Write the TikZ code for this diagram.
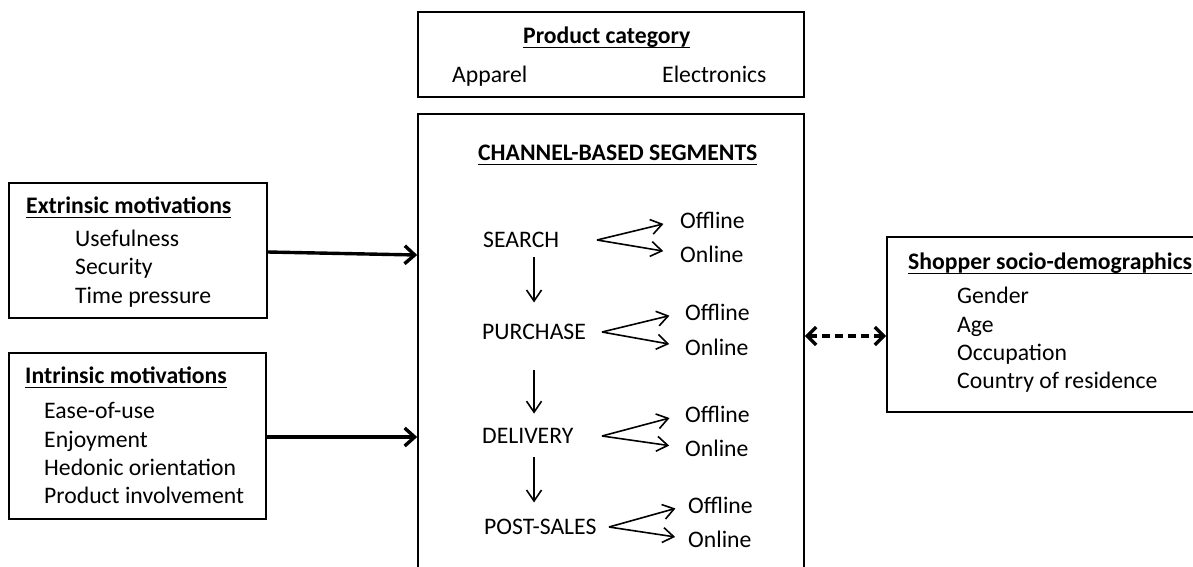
\documentclass[tikz,border=0pt]{standalone}
\usepackage{fontspec}
\setmainfont{Carlito}
\usetikzlibrary{arrows.meta}
\newcommand\myul[1]{\setbox0\hbox{#1}\rlap{\rule[-5pt]{\wd0}{1.5pt}}\box0}
\begin{document}
\begin{tikzpicture}[x=1pt,y=-1pt,
  every node/.style={font=\fontsize{23.7}{28}\selectfont, inner sep=0pt},
  box/.style={draw, line width=1.6pt, rectangle},
  txt/.style={anchor=base west},
  thickarr/.style={line width=3.4pt, -{Straight Barb[length=10pt,width=18pt]}},
  dasharr/.style={line width=3.4pt, dash pattern=on 8pt off 5pt, {Straight Barb[length=9pt,width=18pt]}-{Straight Barb[length=9pt,width=18pt]}},
  thinarr/.style={line width=1.6pt, -{Straight Barb[length=11pt,width=15pt]}}
]
\useasboundingbox (0,0) rectangle (1193,566);
\clip (0,0) rectangle (1193,566);
\fill[white] (0,0) rectangle (1193,566);

% boxes
\node[box, minimum width=386pt, minimum height=85pt] (prod) at (611,54.5) {};
\node[box, minimum width=386pt, minimum height=486pt] (chan) at (611,357) {};
\node[box, minimum width=258pt, minimum height=135pt] (ext) at (138,250.5) {};
\node[box, minimum width=257pt, minimum height=166pt] (int) at (137.5,436) {};
\node[box, minimum width=323pt, minimum height=175pt] (shop) at (1048.5,324.5) {};

% product category
\node[txt] (prodt) at (523,43) {\myul{\bfseries Product category}};
\node[txt] (app) at (452,82) {Apparel};
\node[txt] (elec) at (662,82) {Electronics};

% channel segments
\node[txt] (chant) at (478,160) {\myul{\bfseries CHANNEL-BASED SEGMENTS}};
\node[txt] (search) at (483,247) {SEARCH};
\node[txt] (purch) at (482,339) {PURCHASE};
\node[txt] (deliv) at (482,443) {DELIVERY};
\node[txt] (post) at (484,534) {POST-SALES};

\node[txt] (off1) at (680,228) {Offline};
\node[txt] (on1) at (680,262) {Online};
\node[txt] (off2) at (685,320) {Offline};
\node[txt] (on2) at (685,355) {Online};
\node[txt] (off3) at (685,422) {Offline};
\node[txt] (on3) at (685,456) {Online};
\node[txt] (off4) at (688,513) {Offline};
\node[txt] (on4) at (688,547) {Online};

\coordinate (b1) at (597,240);
\coordinate (b2) at (602,332);
\coordinate (b3) at (602,436);
\coordinate (b4) at (609,527);

\draw[thinarr, shorten >=17pt] (b1) -- (off1.west);
\draw[thinarr, shorten >=17pt] (b1) -- (on1.west);
\draw[thinarr, shorten >=16pt] (b2) -- (off2.west);
\draw[thinarr, shorten >=16pt] (b2) -- (on2.west);
\draw[thinarr, shorten >=16pt] (b3) -- (off3.west);
\draw[thinarr, shorten >=16pt] (b3) -- (on3.west);
\draw[thinarr, shorten >=13pt] (b4) -- (off4.west);
\draw[thinarr, shorten >=13pt] (b4) -- (on4.west);

\draw[thinarr, shorten <=10pt, shorten >=21pt] (search.south -| purch.north) -- (purch.north);
\draw[thinarr, shorten <=31pt, shorten >=14pt] (purch.south) -- (purch.south |- deliv.north);
\draw[thinarr, shorten <=14pt, shorten >=16pt] (deliv.south -| purch.south) -- (purch.south |- post.north);

% extrinsic
\node[txt] (extt) at (26,213) {\myul{\bfseries Extrinsic motivations}};
\node[txt] (e1) at (75,246) {Usefulness};
\node[txt] (e2) at (75,274) {Security};
\node[txt] (e3) at (75,303) {Time pressure};

% intrinsic
\node[txt] (intt) at (25,383) {\myul{\bfseries Intrinsic motivations}};
\node[txt] (i1) at (44,418) {Ease-of-use};
\node[txt] (i2) at (44,447) {Enjoyment};
\node[txt] (i3) at (44,475) {Hedonic orientation};
\node[txt] (i4) at (44,503) {Product involvement};

% shopper
\node[txt] (shopt) at (908,269) {\myul{\bfseries Shopper socio-demographics}};
\node[txt] (s1) at (957,303) {Gender};
\node[txt] (s2) at (957,332) {Age};
\node[txt] (s3) at (957,360) {Occupation};
\node[txt] (s4) at (957,388) {Country of residence};

% main arrows
\draw[thickarr] ([yshift=-1.5pt]ext.east) -- ([yshift=-4.5pt]ext.east -| chan.west);
\draw[thickarr] ([yshift=-1pt]int.east) -- ([yshift=-1pt]int.east -| chan.west);
\draw[dasharr] ([yshift=-11.5pt]shop.west -| chan.east) -- ([yshift=-11.5pt]shop.west);
\end{tikzpicture}
\end{document}
